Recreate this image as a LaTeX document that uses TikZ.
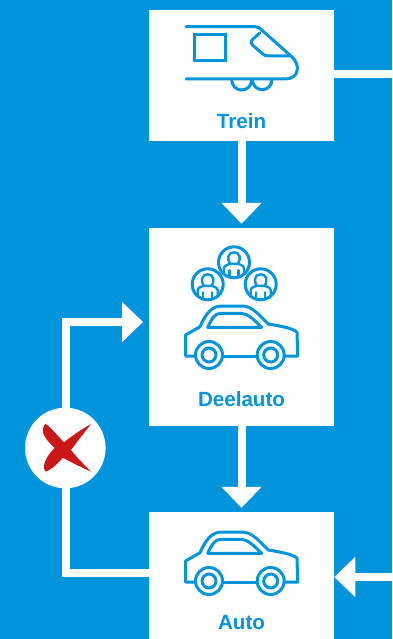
\documentclass[tikz,border=0pt]{standalone}
\usepackage{fontspec}
\setmainfont{Liberation Sans}
\usetikzlibrary{calc,arrows.meta,positioning}
\definecolor{railblue}{HTML}{0095DA}
\definecolor{crossred}{HTML}{CC1719}
\tikzset{
whitebox/.style={rectangle,fill=white,minimum width=185pt,inner sep=0pt},
boxlabel/.style={text=railblue,font=\fontsize{20.6}{20.6}\selectfont\bfseries,inner sep=0pt},
flowline/.style={draw=white,line width=8pt},
flowarrow/.style={flowline,-{Triangle[length=21pt,width=39pt]}},
iconline/.style={draw=railblue,line width=3pt,line cap=round,line join=round},
thinline/.style={iconline,line width=2.4pt},
caricon/.pic={
\draw[iconline] (195,356)--(185.5,356)--(185.5,335)--(200,326.7) .. controls (206,313) and (212,306) .. (222,306)--(241.7,306) .. controls (252,306) and (258,314) .. (268.3,324) .. controls (280,326) and (292,328) .. (297,332)--(297.7,356)--(285,356);\draw[iconline] (223,356)--(257,356);
\draw[iconline] (207.7,327.3) .. controls (212,318) and (215,313.3) .. (221,313.3)--(241,313.3) .. controls (248,313.3) and (254,320) .. (261.7,327.3)--cycle;
\draw[iconline] (209,355) circle (13.5);\draw[iconline] (209,355) circle (7);\draw[iconline] (270.7,355) circle (13.5);\draw[iconline] (270.7,355) circle (7);
},
personicon/.pic={
\draw[iconline] (0,0) circle (15.5);
\draw[thinline] (-4,1.5) .. controls (-7,-3) and (-6.5,-10) .. (0,-10) .. controls (6.5,-10) and (7,-3) .. (4,1.5);
\draw[thinline] (-10,12) -- (-10,6) .. controls (-10,3) and (-6,2.5) .. (-4,1.5) -- (4,1.5) .. controls (6,2.5) and (10,3) .. (10,6) -- (10,12);
\draw[thinline] (-4.5,8) -- (-4.5,14.5);\draw[thinline] (4.5,8) -- (4.5,14.5);
}
}
\begin{document}
\begin{tikzpicture}[x=1pt,y=-1pt]
\useasboundingbox (0,0) rectangle (392,639);
\fill[railblue] (0,0) rectangle (392,639);
\node[whitebox,minimum height=131pt] (trein) at (241.5,75.5) {};
\node[whitebox,minimum height=198pt] (deelauto) at (241.5,327) {};
\node[whitebox,minimum height=127pt] (auto) at (241.5,575.5) {};
\node[boxlabel] (treinlabel) at (241.5,121) {Trein};
\node[boxlabel] (deelautolabel) at (241.5,398.7) {Deelauto};
\node[boxlabel] (autolabel) at (241.5,622.7) {Auto};
% train
\draw[iconline] (186,26.7)--(255,26.7) .. controls (258,26.7) and (260,28) .. (261.7,30)--(291.7,56.7) .. controls (301,65) and (299,79) .. (285,79)--(186,79);
\draw[iconline,line join=miter] (194.3,34.3) rectangle (225,60.7);
\draw[iconline] (260,32.7)--(252.5,39.5) .. controls (250.5,41.5) and (250.5,43) .. (252.5,45)--(262,53.5) .. controls (264,55.5) and (266,56) .. (269,56)--(289,56);
\draw[iconline] (231.7,80) arc[start angle=180,end angle=0,radius=10];\draw[iconline] (252.5,80) arc[start angle=180,end angle=0,radius=9.7];
% people and cars
\pic at (234,262.3) {personicon};\pic at (207.7,284.3) {personicon};\pic at (260.7,284.3) {personicon};
\pic at (0,0) {caricon};\pic at (0,226) {caricon};
% connectors
\coordinate (treinexit) at (334,74.5);\coordinate (treinend) at (392,74.5);
\draw[flowline] (treinexit)--(treinend);
\draw[flowarrow,shorten >=4pt] (trein.south)--(deelauto.north);
\draw[flowarrow,shorten >=4pt] (deelauto.south)--(auto.north);
\coordinate (autoin) at (392,577);\coordinate (autotip) at (334.3,577);
\draw[flowarrow] (autoin)--(autotip);
\coordinate (autoexit) at (149,573);\coordinate (bendup) at (66,322);\coordinate (deeltip) at (143,322);
\draw[flowarrow] (autoexit)-|(bendup)--(deeltip);
% cross
\node[circle,fill=white,minimum size=80.6pt,inner sep=0pt] (crossdisc) at (65.3,448) {};
\begin{scope}[shift={(15,400)},x=.3333pt,y=-.3333pt]
\fill[crossred] (92,72) .. controls (108,82) and (128,108) .. (147,127) .. controls (170,108) and (200,88) .. (228,72) .. controls (208,98) and (186,125) .. (168,150) .. controls (188,176) and (212,198) .. (228,215) .. controls (200,202) and (170,188) .. (144,173) .. controls (128,190) and (112,208) .. (92,215) .. controls (82,208) and (84,178) .. (119,144) .. controls (100,125) and (78,105) .. (85,82) .. controls (86,76) and (89,73) .. (92,72)--cycle;
\end{scope}
\end{tikzpicture}
\end{document}
